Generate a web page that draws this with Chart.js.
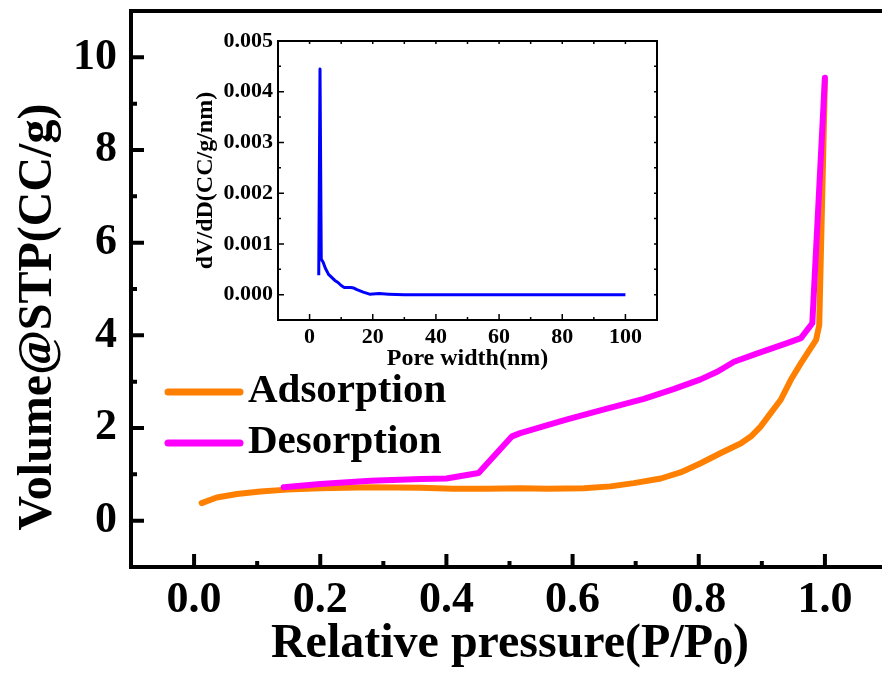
<!DOCTYPE html>
<html>
<head>
<meta charset="utf-8">
<script src="https://cdn.jsdelivr.net/npm/chart.js@4.4.0/dist/chart.umd.min.js"></script>
<style>
  body { margin: 0; background: #fff; }
  #wrap { position: relative; width: 882px; height: 675px; overflow: hidden; background: #fff; }
  #mainChart { position: absolute; left: 0; top: 0; }
  #insetChart { position: absolute; left: 180px; top: 25px; }
</style>
</head>
<body>
<div id="wrap">
  <canvas id="mainChart" width="890" height="675"></canvas>
  <canvas id="insetChart" width="500" height="360"></canvas>
</div>
<script>
// N2 isotherm
const adsPressure = [0.012, 0.036, 0.068, 0.105, 0.147, 0.2, 0.28, 0.36, 0.41, 0.465, 0.517, 0.56, 0.618, 0.66, 0.697, 0.74, 0.771, 0.803, 0.835, 0.867, 0.883, 0.898, 0.914, 0.93, 0.946, 0.962, 0.986, 0.991, 1.0];
const adsVolume = [0.38, 0.50, 0.575, 0.63, 0.67, 0.70, 0.72, 0.71, 0.69, 0.69, 0.70, 0.69, 0.70, 0.74, 0.81, 0.91, 1.04, 1.24, 1.46, 1.67, 1.82, 2.03, 2.32, 2.61, 3.04, 3.40, 3.90, 4.22, 9.5];
const desPressure = [0.142, 0.2, 0.28, 0.36, 0.40, 0.451, 0.504, 0.517, 0.59, 0.65, 0.713, 0.76, 0.803, 0.83, 0.856, 0.893, 0.94, 0.962, 0.98, 1.0];
const desVolume = [0.72, 0.79, 0.86, 0.90, 0.91, 1.03, 1.82, 1.89, 2.18, 2.40, 2.63, 2.84, 3.05, 3.22, 3.43, 3.61, 3.83, 3.94, 4.26, 9.56];

// pore size distribution (inset)
const poreWidth = [2.9, 3.3, 3.7, 4.3, 5, 6, 7, 8, 9, 10, 11, 13, 14, 15, 17, 19, 22, 25, 30, 40, 50, 60, 70, 80, 90, 100];
const poreDvDd = [0.00038, 0.00445, 0.0007, 0.00064, 0.00052, 0.0004, 0.00034, 0.00028, 0.00024, 0.00018, 0.00014, 0.00014, 0.00013, 0.0001, 0.00005, 0.00001, 0.00002, 0.00001, 0, 0, 0, 0, 0, 0, 0, 0];

const mainXTicks = [0, 0.2, 0.4, 0.6, 0.8, 1.0];
const mainXMinor = [0.1, 0.3, 0.5, 0.7, 0.9];
const mainYTicks = [0, 2, 4, 6, 8, 10];
const mainYMinor = [1, 3, 5, 7, 9];
const insetXTicks = [0, 20, 40, 60, 80, 100];
const insetXMinor = [10, 30, 50, 70, 90];
const insetYTicks = [0, 0.001, 0.002, 0.003, 0.004, 0.005];
const insetYMinor = [0.0005, 0.0015, 0.0025, 0.0035, 0.0045];

const serif = 'Liberation Serif';

const toPoints = (xs, ys) => xs.map((x, i) => ({ x: x, y: ys[i] }));

// keep the plot box where we put it, labels may hang over
const fixSize = (prop, size) => s => {
  s[prop] = size;
  s.paddingTop = 0;
  s.paddingBottom = 0;
  s.paddingLeft = 0;
  s.paddingRight = 0;
};

// box round the plot area plus inward tick marks
function frameTicks(opts) {
  return {
    id: 'frameTicks',
    afterDraw(chart) {
      const ctx = chart.ctx;
      const a = chart.chartArea;
      const xs = chart.scales.x;
      const ys = chart.scales.y;
      ctx.save();
      ctx.strokeStyle = '#000';
      ctx.lineWidth = opts.frameWidth;
      ctx.strokeRect(a.left, a.top, a.right - a.left, a.bottom - a.top);
      ctx.lineWidth = opts.tickWidth;
      ctx.beginPath();
      const xMark = (v, len, mirror) => {
        const p = xs.getPixelForValue(v);
        ctx.moveTo(p, a.bottom);
        ctx.lineTo(p, a.bottom - len);
        if (mirror) {
          ctx.moveTo(p, a.top);
          ctx.lineTo(p, a.top + mirror);
        }
      };
      const yMark = (v, len, mirror) => {
        const p = ys.getPixelForValue(v);
        ctx.moveTo(a.left, p);
        ctx.lineTo(a.left + len, p);
        if (mirror) {
          ctx.moveTo(a.right, p);
          ctx.lineTo(a.right - mirror, p);
        }
      };
      opts.xMajor.forEach(v => xMark(v, opts.major, opts.mirror));
      opts.xMinor.forEach(v => xMark(v, opts.minor, opts.mirror));
      opts.yMajor.forEach(v => yMark(v, opts.major, opts.mirror));
      opts.yMinor.forEach(v => yMark(v, opts.minor, opts.mirror));
      ctx.stroke();
      ctx.restore();
    }
  };
}

const legendBox = {
  id: 'legendBox',
  afterDraw(chart) {
    const ctx = chart.ctx;
    ctx.save();
    ctx.font = 'bold 41px "' + serif + '"';
    ctx.textBaseline = 'alphabetic';
    ctx.fillStyle = '#000';
    chart.data.datasets.forEach((ds, i) => {
      const y = 392 + i * 51;
      ctx.strokeStyle = ds.borderColor;
      ctx.lineWidth = 7;
      ctx.lineCap = 'round';
      ctx.beginPath();
      ctx.moveTo(168, y);
      ctx.lineTo(240, y);
      ctx.stroke();
      ctx.fillText(ds.label, 248, y + 10);
    });
    ctx.restore();
  }
};

const axisTitles = {
  id: 'axisTitles',
  afterDraw(chart) {
    const ctx = chart.ctx;
    ctx.save();
    ctx.fillStyle = '#000';
    ctx.textBaseline = 'alphabetic';
    // y title
    ctx.font = 'bold 48px "' + serif + '"';
    ctx.translate(51, 317);
    ctx.rotate(-Math.PI / 2);
    ctx.textAlign = 'center';
    ctx.fillText('Volume@STP(CC/g)', 0, 0);
    ctx.restore();

    // x title with subscript
    ctx.save();
    ctx.fillStyle = '#000';
    ctx.textBaseline = 'alphabetic';
    const big = 'bold 48px "' + serif + '"';
    const small = 'bold 40px "' + serif + '"';
    const head = 'Relative pressure(P/P';
    ctx.font = big;
    const w1 = ctx.measureText(head).width;
    const w3 = ctx.measureText(')').width;
    ctx.font = small;
    const w2 = ctx.measureText('0').width;
    let x = 510 - (w1 + w2 + w3) / 2;
    const base = 657;
    ctx.font = big;
    ctx.fillText(head, x, base);
    x += w1;
    ctx.font = small;
    ctx.fillText('0', x, base + 7);
    x += w2;
    ctx.font = big;
    ctx.fillText(')', x, base);
    ctx.restore();
  }
};

new Chart(document.getElementById('mainChart'), {
  type: 'scatter',
  data: {
    datasets: [
      {
        label: 'Adsorption',
        data: toPoints(adsPressure, adsVolume),
        borderColor: '#ff8000',
        borderWidth: 6,
        showLine: true,
        pointRadius: 0,
        borderJoinStyle: 'round',
        borderCapStyle: 'round',
        order: 2
      },
      {
        label: 'Desorption',
        data: toPoints(desPressure, desVolume),
        borderColor: '#ff00ff',
        borderWidth: 6,
        showLine: true,
        pointRadius: 0,
        borderJoinStyle: 'round',
        borderCapStyle: 'round',
        order: 1
      }
    ]
  },
  options: {
    responsive: false,
    animation: false,
    devicePixelRatio: 1,
    layout: { padding: { top: 11, right: 2, left: 0, bottom: 0 } },
    plugins: { legend: { display: false }, tooltip: { enabled: false } },
    scales: {
      x: {
        type: 'linear',
        min: -0.1,
        max: 1.1,
        grid: { display: false, drawTicks: false },
        border: { display: false },
        afterBuildTicks: s => { s.ticks = mainXTicks.map(v => ({ value: v })); },
        afterFit: fixSize('height', 108),
        ticks: {
          font: { family: serif, weight: 'bold', size: 44 },
          color: '#000',
          padding: 7,
          maxRotation: 0,
          autoSkip: false,
          callback: v => v.toFixed(1)
        }
      },
      y: {
        type: 'linear',
        min: -1,
        max: 11,
        grid: { display: false, drawTicks: false },
        border: { display: false },
        afterBuildTicks: s => { s.ticks = mainYTicks.map(v => ({ value: v })); },
        afterFit: fixSize('width', 131),
        ticks: {
          font: { family: serif, weight: 'bold', size: 44 },
          color: '#000',
          padding: 14,
          autoSkip: false,
          callback: v => String(v)
        }
      }
    }
  },
  plugins: [
    frameTicks({ frameWidth: 4, tickWidth: 4, major: 13, minor: 6, mirror: 0,
      xMajor: mainXTicks, xMinor: mainXMinor, yMajor: mainYTicks, yMinor: mainYMinor }),
    legendBox,
    axisTitles
  ]
});

new Chart(document.getElementById('insetChart'), {
  type: 'scatter',
  data: {
    datasets: [{
      label: 'PSD',
      data: toPoints(poreWidth, poreDvDd),
      borderColor: '#0000ff',
      borderWidth: 3,
      showLine: true,
      pointRadius: 0,
      borderJoinStyle: 'round'
    }]
  },
  options: {
    responsive: false,
    animation: false,
    devicePixelRatio: 1,
    layout: { padding: { top: 16, right: 23, left: 0, bottom: 0 } },
    plugins: { legend: { display: false }, tooltip: { enabled: false } },
    scales: {
      x: {
        type: 'linear',
        min: -10,
        max: 110,
        grid: { display: false, drawTicks: false },
        border: { display: false },
        afterBuildTicks: s => { s.ticks = insetXTicks.map(v => ({ value: v })); },
        afterFit: fixSize('height', 65),
        ticks: {
          font: { family: serif, weight: 'bold', size: 22 },
          color: '#000',
          padding: 4,
          maxRotation: 0,
          autoSkip: false,
          callback: v => String(v)
        },
        title: {
          display: true,
          text: 'Pore width(nm)',
          color: '#000',
          font: { family: serif, weight: 'bold', size: 24 },
          padding: { top: 0, bottom: 12 }
        }
      },
      y: {
        type: 'linear',
        min: -0.0005,
        max: 0.005,
        grid: { display: false, drawTicks: false },
        border: { display: false },
        afterBuildTicks: s => { s.ticks = insetYTicks.map(v => ({ value: v })); },
        afterFit: fixSize('width', 98),
        ticks: {
          font: { family: serif, weight: 'bold', size: 22 },
          color: '#000',
          padding: 5,
          autoSkip: false,
          callback: v => v.toFixed(3)
        },
        title: {
          display: true,
          text: 'dV/dD(CC/g/nm)',
          color: '#000',
          font: { family: serif, weight: 'bold', size: 24 },
          padding: { top: 11, bottom: 0 }
        }
      }
    }
  },
  plugins: [
    frameTicks({ frameWidth: 2, tickWidth: 1.5, major: 6, minor: 3, mirror: 3,
      xMajor: insetXTicks, xMinor: insetXMinor, yMajor: insetYTicks, yMinor: insetYMinor })
  ]
});
</script>
</body>
</html>
